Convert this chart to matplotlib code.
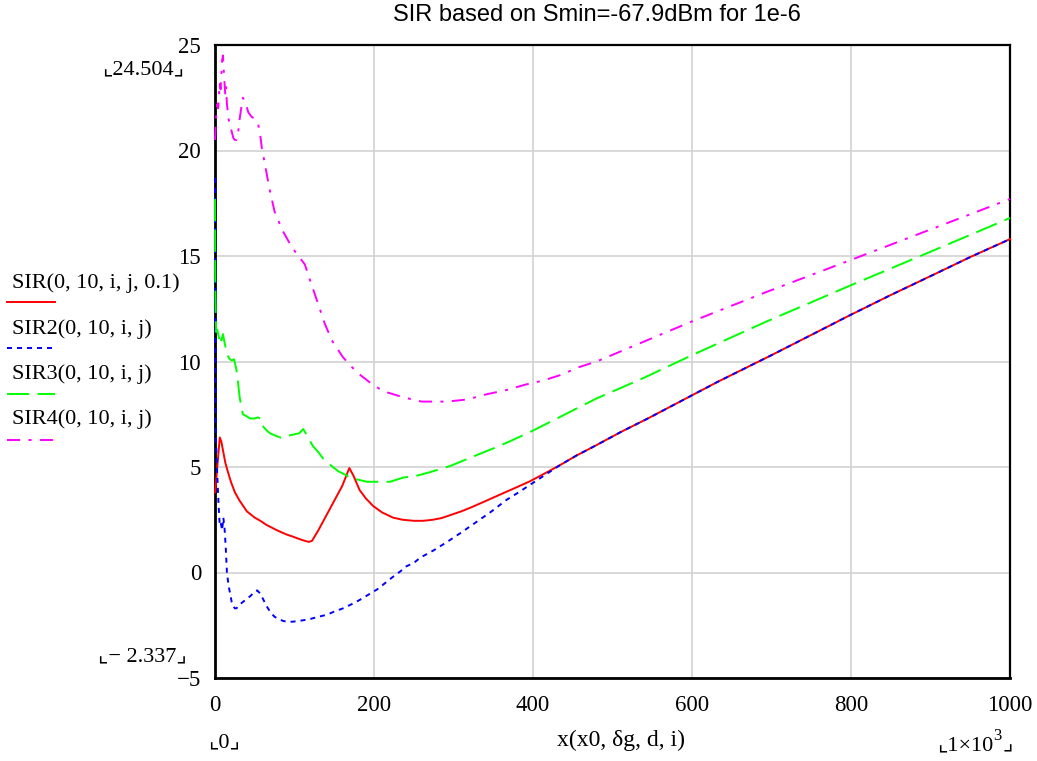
import numpy as np
import matplotlib
matplotlib.use('Agg')
import matplotlib.pyplot as plt
from matplotlib.lines import Line2D

plt.rcParams['lines.scale_dashes'] = False

# data
x_sir = [0, 2, 4, 6, 8, 10, 13, 16, 20, 25, 31, 40, 50, 57, 65, 78, 90, 98, 105, 113, 118, 122,
         130, 140, 150, 160, 169, 174, 182, 190, 199, 210, 224, 236, 250, 262, 274, 285, 296, 310,
         323, 337, 350, 365, 380, 396, 415, 434, 455, 480, 510, 545, 590, 633, 700, 760, 799, 850,
         903, 950, 1000]
y_sir = [3.8, 4.6, 5.5, 6.4, 6.2, 5.8, 5.2, 4.8, 4.3, 3.8, 3.4, 2.9, 2.6, 2.45, 2.25, 2.0, 1.8,
         1.7, 1.6, 1.5, 1.45, 1.5, 2.0, 2.7, 3.4, 4.1, 4.95, 4.6, 3.9, 3.5, 3.15, 2.85, 2.6, 2.5,
         2.45, 2.45, 2.5, 2.58, 2.72, 2.9, 3.1, 3.33, 3.55, 3.8, 4.05, 4.32, 4.7, 5.09, 5.55, 6.04,
         6.65, 7.31, 8.2, 9.05, 10.3, 11.45, 12.2, 13.15, 14.1, 14.95, 15.8]

x_sir2 = [0, 0.3, 0.8, 1.5, 3, 4.5, 6, 7.5, 9, 10.5, 12, 13.5, 15, 17, 19, 21, 23, 25, 27, 30,
          35, 40, 45, 50, 53, 57, 61, 65, 70, 75, 80, 86, 92, 98, 105, 113, 120, 130, 141, 150,
          161, 172, 182, 193, 204, 214, 224, 233, 241, 250, 258, 275, 292, 310, 329, 348, 367,
          382, 396, 415, 434, 455, 480, 510, 545, 590, 633, 700, 760, 799, 850, 903, 950, 1000]
y_sir2 = [18.7, 12.0, 7.1, 6.0, 4.5, 3.2, 2.2, 2.3, 2.0, 2.6, 2.1, 1.2, 0.0, -0.6, -1.0, -1.4,
          -1.6, -1.7, -1.7, -1.55, -1.4, -1.25, -1.1, -0.9, -0.85, -1.0, -1.3, -1.6, -1.9, -2.1,
          -2.2, -2.3, -2.337, -2.33, -2.3, -2.25, -2.2, -2.1, -2.0, -1.85, -1.7, -1.5, -1.3,
          -1.05, -0.8, -0.5, -0.2, 0.05, 0.3, 0.45, 0.7, 1.05, 1.45, 1.9, 2.4, 2.9, 3.45, 3.8,
          4.15, 4.62, 5.09, 5.55, 6.04, 6.65, 7.31, 8.2, 9.05, 10.3, 11.45, 12.2, 13.15, 14.1,
          14.95, 15.8]

x_sir3 = [0, 0.3, 0.8, 1.5, 3, 5, 6, 8, 10, 12, 15, 17, 19, 21, 24, 27, 29, 31, 33, 35, 40, 44,
          50, 54, 57, 59, 62, 66, 69, 75, 82, 88, 94, 100, 106, 111, 117, 123, 130, 136, 145,
          155, 163, 170, 180, 191, 205, 220, 237, 255, 270, 296, 325, 358, 396, 438, 480, 538,
          600, 694, 799, 903, 1000]
y_sir3 = [17.7, 14.0, 12.5, 11.4, 11.5, 11.1, 11.3, 11.0, 11.3, 10.9, 10.4, 10.2, 10.1, 10.05,
          10.1, 9.6, 9.0, 8.3, 7.9, 7.5, 7.4, 7.3, 7.3, 7.35, 7.3, 7.0, 6.85, 6.7, 6.6, 6.5, 6.4,
          6.4, 6.5, 6.55, 6.6, 6.8, 6.4, 6.0, 5.7, 5.4, 5.1, 4.8, 4.65, 4.5, 4.4, 4.3, 4.3, 4.3,
          4.5, 4.6, 4.75, 5.05, 5.5, 6.0, 6.65, 7.45, 8.25, 9.2, 10.3, 11.9, 13.6, 15.25, 16.8]

x_sir4 = [0, 1, 2, 3, 4, 5, 6, 7, 8, 9, 10, 11, 12, 13, 14, 15, 17, 19, 21, 23, 25, 27, 29, 31,
          33, 35, 38, 42, 46, 50, 54, 57, 59, 63, 69, 75, 85, 97, 113, 120, 130, 138, 147, 161,
          178, 195, 211, 237, 260, 292, 317, 342, 367, 390, 413, 438, 455, 480, 540, 600, 694,
          799, 903, 1000]
y_sir4 = [20.5, 21.3, 21.8, 22.2, 22.0, 22.6, 23.2, 22.9, 23.6, 24.3, 24.504, 23.8, 23.2, 22.6,
          23.0, 22.2, 21.5, 21.2, 20.9, 20.6, 20.5, 20.5, 20.8, 21.5, 22.0, 22.5, 22.3, 21.8,
          21.6, 21.5, 21.3, 20.7, 20.1, 19.3, 18.1, 17.1, 16.2, 15.4, 14.6, 13.8, 12.7, 11.8,
          11.0, 10.2, 9.5, 9.0, 8.6, 8.3, 8.1, 8.1, 8.2, 8.45, 8.65, 8.9, 9.1, 9.4, 9.7, 10.0,
          10.95, 11.9, 13.3, 14.8, 16.3, 17.7]

labels = ['SIR(0, 10, i, j, 0.1)', 'SIR2(0, 10, i, j)', 'SIR3(0, 10, i, j)', 'SIR4(0, 10, i, j)']
colors = ['#ff0000', '#0000ff', '#00ff00', '#ff00ff']
styles = ['-', (0, (3.6, 3.6)), (0, (16, 6)), (0, (9.5, 6, 2.2, 6))]

serif = ['Liberation Serif', 'DejaVu Serif']
corner = ['Liberation Serif', 'DejaVu Sans']

fig = plt.figure(figsize=(10.37, 7.61), dpi=100)
ax = fig.add_axes([215 / 1037, 1 - 678 / 761, 795 / 1037, 633 / 761])

series = [(x_sir, y_sir), (x_sir2, y_sir2), (x_sir3, y_sir3), (x_sir4, y_sir4)]
for (xs, ys), c, ls in zip(series, colors, styles):
    ax.plot(xs, ys, color=c, linestyle=ls, lw=1.4, zorder=3, clip_on=False)

ax.set_xlim(0, 1000)
ax.set_ylim(-5, 25)
ax.set_xticks(np.arange(0, 1001, 200))
ax.set_yticks(np.arange(-5, 26, 5))
ax.set_yticklabels(['\u22125', '0', '5', '10', '15', '20', '25'])
ax.grid(True, color='#d2d2d2', lw=1.2)
ax.set_axisbelow(True)
ax.tick_params(length=0, labelsize=16.5)
ax.tick_params(axis='y', pad=10)
ax.tick_params(axis='x', pad=12)
for lab in ax.get_xticklabels() + ax.get_yticklabels():
    lab.set_fontfamily(serif)
for side in ['left', 'bottom']:
    ax.spines[side].set_linewidth(2)
for side in ['top', 'right']:
    ax.spines[side].set_linewidth(1.6)

fig.text(597 / 1037, 1 - 15 / 761, 'SIR based on Smin=-67.9dBm for 1e-6', ha='center', va='center',
         fontsize=17, family='Liberation Sans')

# legend on the left, Mathcad style
label_y = [283, 329, 374, 419]
line_y = [302, 348, 394, 440]
for lab, ly, lny, c, ls in zip(labels, label_y, line_y, colors, styles):
    fig.text(12 / 1037, 1 - ly / 761, lab, ha='left', va='center', fontsize=16, family=serif)
    fig.add_artist(Line2D([7 / 1037, 55 / 1037], [1 - lny / 761] * 2, color=c, linestyle=ls,
                          lw=1.4, transform=fig.transFigure))

fig.text(143 / 1037, 1 - 70 / 761, '\u231e24.504\u231f', ha='center', va='center', fontsize=16,
         family=corner)
fig.text(142 / 1037, 1 - 657 / 761, '\u231e\u2212 2.337\u231f', ha='center', va='center',
         fontsize=16, family=corner)
fig.text(224 / 1037, 1 - 743 / 761, '\u231e0\u231f', ha='center', va='center', fontsize=16,
         family=corner)
# 1x10^3 with a real superscript
fig.text(993 / 1037, 1 - 746 / 761, '\u231e1\u00d710', ha='right', va='center', fontsize=16,
         family=corner)
fig.text(993 / 1037, 1 - 736 / 761, '3', ha='left', va='center', fontsize=12, family=serif)
fig.text(1003 / 1037, 1 - 746 / 761, '\u231f', ha='left', va='center', fontsize=16,
         family=corner)
fig.text(621 / 1037, 1 - 740 / 761, 'x(x0, \u03b4g, d, i)', ha='center', va='center', fontsize=17,
         family=serif)

fig.savefig('out.png', dpi=100)
